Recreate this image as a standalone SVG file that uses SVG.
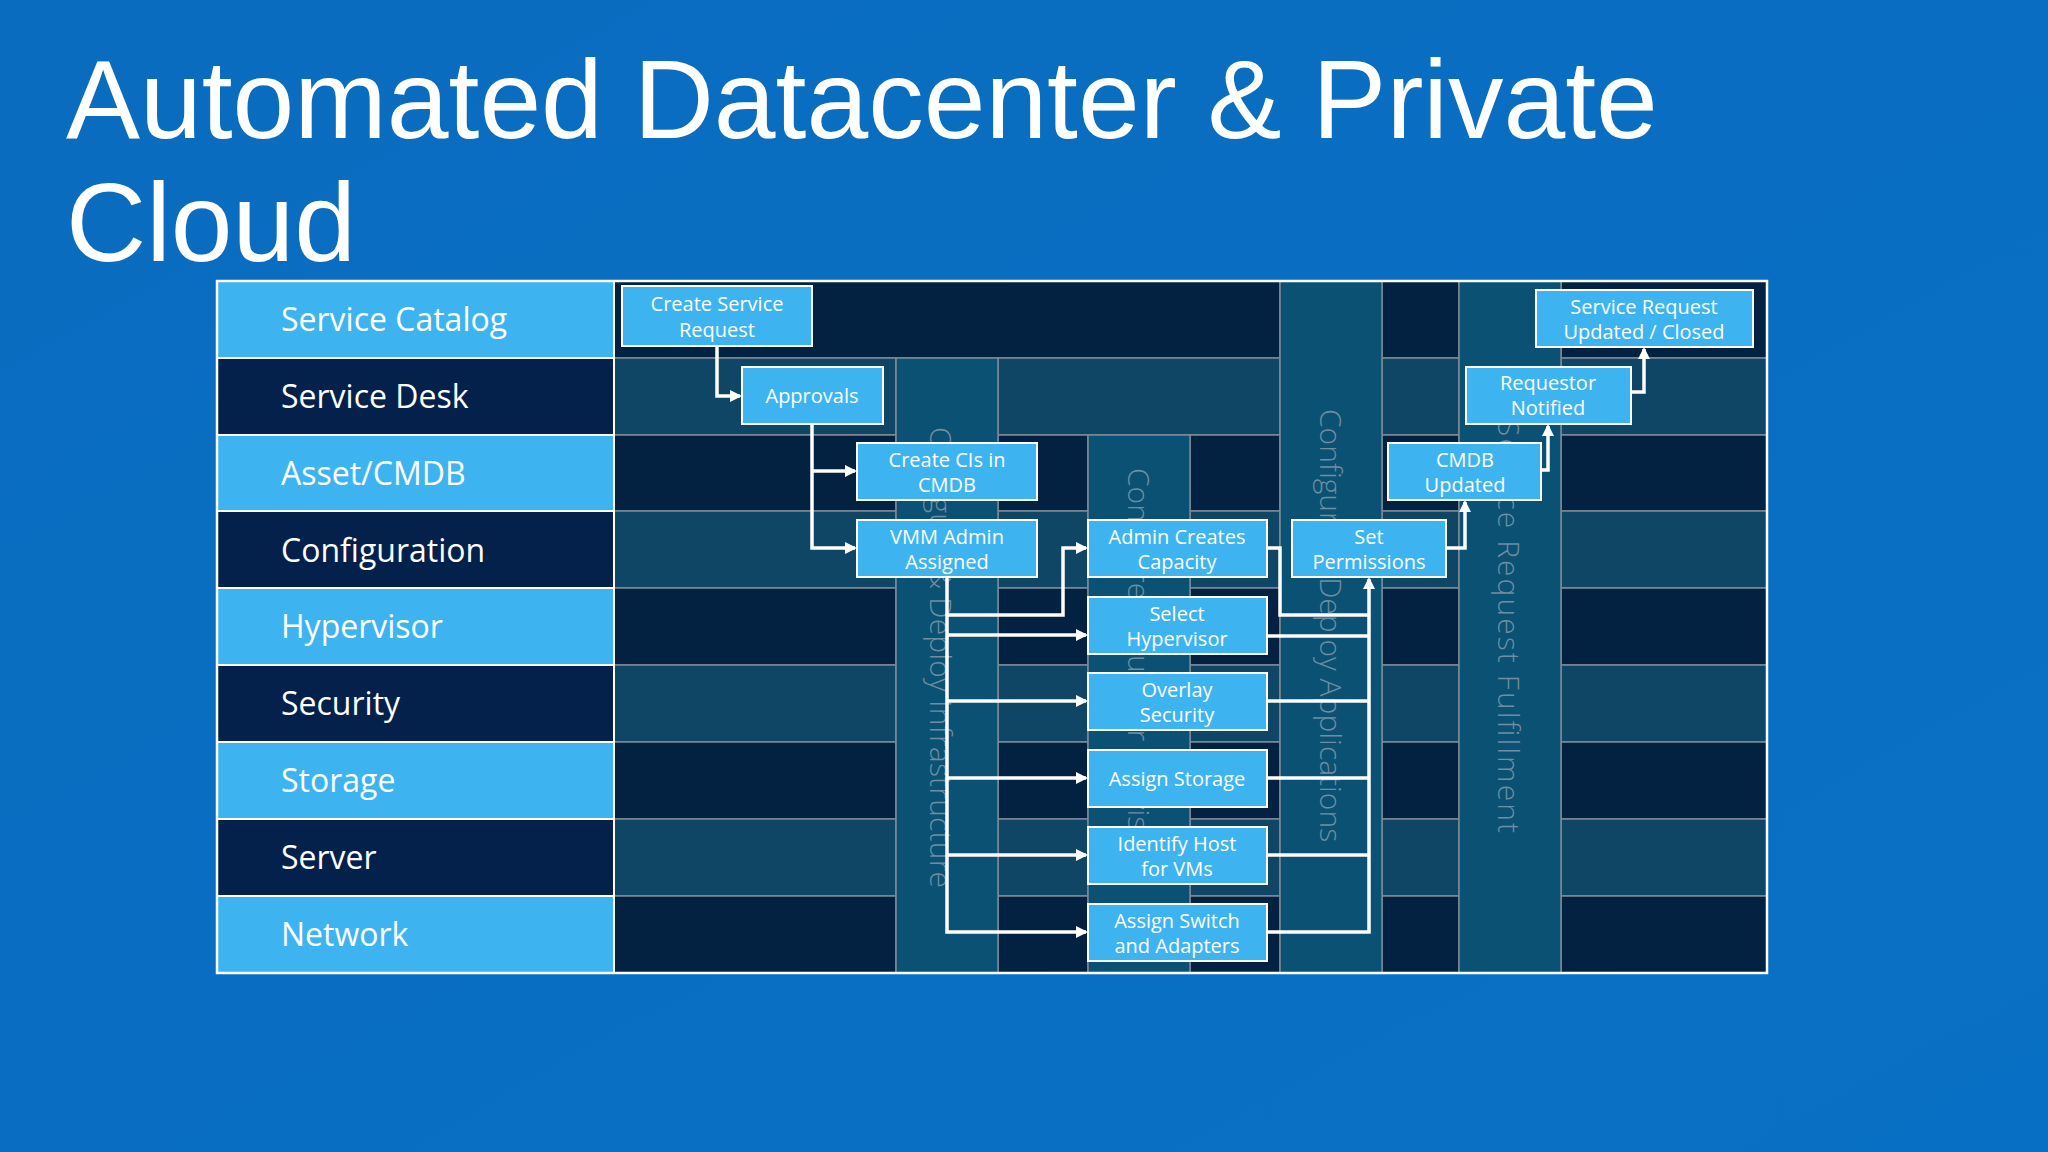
<svg xmlns="http://www.w3.org/2000/svg" width="2048" height="1152" viewBox="0 0 2048 1152">
<defs>
<linearGradient id="bg" x1="0" y1="0" x2="1" y2="1"><stop offset="0" stop-color="#0a6cbf"/><stop offset="1" stop-color="#0870c4"/></linearGradient>
<marker id="ar" markerWidth="12" markerHeight="12" refX="10" refY="6" orient="auto" markerUnits="userSpaceOnUse"><path d="M0,0 L12,6 L0,12 Z" fill="#fff"/></marker>
<style>
.title{font-family:"Liberation Sans",Arial,sans-serif;font-size:111px;fill:#fff}
.lab{font-family:"Open Sans","Noto Sans",sans-serif;font-size:32px;fill:#fff}
.lc1{fill:#3db4f0;stroke:#fff;stroke-width:2}
.lc2{fill:#03214a;stroke:#fff;stroke-width:2}
.d{fill:#032241;stroke:#7d8a96;stroke-width:1.5}
.m{fill:#0f4565;stroke:#7d8a96;stroke-width:1.5}
.band{fill:#0b5173;stroke:#7d8a96;stroke-width:1.5}
.bt{font-family:"Open Sans","Noto Sans",sans-serif;font-size:30px;font-weight:300;fill:#6e8ea3}
.box{fill:#3db4f0;stroke:#fff;stroke-width:2}
.bx{font-family:"Open Sans","Noto Sans",sans-serif;font-size:20px;fill:#fff;text-anchor:middle}
.c{fill:none;stroke:#fff;stroke-width:3.5}
</style>
</defs>
<rect width="2048" height="1152" fill="url(#bg)"/>
<text class="title" x="66" y="138">Automated Datacenter &amp; Private</text>
<text class="title" x="66" y="261">Cloud</text>

<g id="grid">
<rect class="d" x="614" y="281" width="666" height="77"/>
<rect class="d" x="1382" y="281" width="77" height="77"/>
<rect class="d" x="1561" y="281" width="206" height="77"/>
<rect class="m" x="614" y="358" width="282" height="77"/>
<rect class="m" x="998" y="358" width="282" height="77"/>
<rect class="m" x="1382" y="358" width="77" height="77"/>
<rect class="m" x="1561" y="358" width="206" height="77"/>
<g>
<rect class="d" x="614" y="435" width="282" height="76"/><rect class="d" x="998" y="435" width="90" height="76"/><rect class="d" x="1190" y="435" width="90" height="76"/><rect class="d" x="1382" y="435" width="77" height="76"/><rect class="d" x="1561" y="435" width="206" height="76"/>
<rect class="m" x="614" y="511" width="282" height="77"/><rect class="m" x="998" y="511" width="90" height="77"/><rect class="m" x="1190" y="511" width="90" height="77"/><rect class="m" x="1382" y="511" width="77" height="77"/><rect class="m" x="1561" y="511" width="206" height="77"/>
<rect class="d" x="614" y="588" width="282" height="77"/><rect class="d" x="998" y="588" width="90" height="77"/><rect class="d" x="1190" y="588" width="90" height="77"/><rect class="d" x="1382" y="588" width="77" height="77"/><rect class="d" x="1561" y="588" width="206" height="77"/>
<rect class="m" x="614" y="665" width="282" height="77"/><rect class="m" x="998" y="665" width="90" height="77"/><rect class="m" x="1190" y="665" width="90" height="77"/><rect class="m" x="1382" y="665" width="77" height="77"/><rect class="m" x="1561" y="665" width="206" height="77"/>
<rect class="d" x="614" y="742" width="282" height="77"/><rect class="d" x="998" y="742" width="90" height="77"/><rect class="d" x="1190" y="742" width="90" height="77"/><rect class="d" x="1382" y="742" width="77" height="77"/><rect class="d" x="1561" y="742" width="206" height="77"/>
<rect class="m" x="614" y="819" width="282" height="77"/><rect class="m" x="998" y="819" width="90" height="77"/><rect class="m" x="1190" y="819" width="90" height="77"/><rect class="m" x="1382" y="819" width="77" height="77"/><rect class="m" x="1561" y="819" width="206" height="77"/>
<rect class="d" x="614" y="896" width="282" height="77"/><rect class="d" x="998" y="896" width="90" height="77"/><rect class="d" x="1190" y="896" width="90" height="77"/><rect class="d" x="1382" y="896" width="77" height="77"/><rect class="d" x="1561" y="896" width="206" height="77"/>
</g>
<rect class="band" x="896" y="358" width="102" height="615"/>
<rect class="band" x="1088" y="435" width="102" height="538"/>
<rect class="band" x="1280" y="281" width="102" height="692"/>
<rect class="band" x="1459" y="281" width="102" height="692"/>
<text class="bt" transform="translate(930,427) rotate(90)" textLength="461">Configure &amp; Deploy Infrastructure</text>
<text class="bt" transform="translate(1128,468) rotate(90)">Configure &amp; Build or Provision</text>
<text class="bt" transform="translate(1320,409) rotate(90)">Configure &amp; Deploy Applications</text>
<text class="bt" transform="translate(1498,420) rotate(90)" textLength="413">Service Request Fulfillment</text>
</g>

<g id="labels">
<rect class="lc1" x="217" y="281" width="397" height="77"/><text class="lab" x="281" y="331">Service Catalog</text>
<rect class="lc2" x="217" y="358" width="397" height="77"/><text class="lab" x="281" y="408">Service Desk</text>
<rect class="lc1" x="217" y="435" width="397" height="76"/><text class="lab" x="281" y="485">Asset/CMDB</text>
<rect class="lc2" x="217" y="511" width="397" height="77"/><text class="lab" x="281" y="562">Configuration</text>
<rect class="lc1" x="217" y="588" width="397" height="77"/><text class="lab" x="281" y="638">Hypervisor</text>
<rect class="lc2" x="217" y="665" width="397" height="77"/><text class="lab" x="281" y="715">Security</text>
<rect class="lc1" x="217" y="742" width="397" height="77"/><text class="lab" x="281" y="792">Storage</text>
<rect class="lc2" x="217" y="819" width="397" height="77"/><text class="lab" x="281" y="869">Server</text>
<rect class="lc1" x="217" y="896" width="397" height="77"/><text class="lab" x="281" y="946">Network</text>
</g>
<rect x="217" y="281" width="1550" height="692" fill="none" stroke="#fff" stroke-width="2.5"/>

<g id="connectors">
<polyline class="c" points="717,346 717,396 740,396" marker-end="url(#ar)"/>
<polyline class="c" points="812,424 812,548 855,548" marker-end="url(#ar)"/>
<polyline class="c" points="812,471 855,471" marker-end="url(#ar)"/>
<polyline class="c" points="947,577 947,932 1086,932" marker-end="url(#ar)"/>
<polyline class="c" points="947,615 1063,615 1063,548 1086,548" marker-end="url(#ar)"/>
<polyline class="c" points="947,635 1086,635" marker-end="url(#ar)"/>
<polyline class="c" points="947,701 1086,701" marker-end="url(#ar)"/>
<polyline class="c" points="947,778 1086,778" marker-end="url(#ar)"/>
<polyline class="c" points="947,855 1086,855" marker-end="url(#ar)"/>
<polyline class="c" points="1267,548 1280,548 1280,615 1369,615"/>
<polyline class="c" points="1256,636 1369,636"/>
<polyline class="c" points="1267,701 1369,701"/>
<polyline class="c" points="1267,778 1369,778"/>
<polyline class="c" points="1267,855 1369,855"/>
<polyline class="c" points="1267,932 1369,932 1369,579" marker-end="url(#ar)"/>
<polyline class="c" points="1446,548 1465,548 1465,502" marker-end="url(#ar)"/>
<polyline class="c" points="1541,470 1548,470 1548,426" marker-end="url(#ar)"/>
<polyline class="c" points="1631,392 1644,392 1644,349" marker-end="url(#ar)"/>
</g>

<g id="n1"><rect class="box" x="622" y="286" width="190" height="60"/><text class="bx" x="717" y="311">Create Service</text><text class="bx" x="717" y="337">Request</text></g>
<g id="n2"><rect class="box" x="742" y="367" width="141" height="57"/><text class="bx" x="812" y="403">Approvals</text></g>
<g id="n3"><rect class="box" x="857" y="443" width="180" height="57"/><text class="bx" x="947" y="467">Create CIs in</text><text class="bx" x="947" y="492">CMDB</text></g>
<g id="n4"><rect class="box" x="857" y="520" width="180" height="57"/><text class="bx" x="947" y="544">VMM Admin</text><text class="bx" x="947" y="569">Assigned</text></g>
<g id="n5"><rect class="box" x="1088" y="520" width="179" height="57"/><text class="bx" x="1177" y="544">Admin Creates</text><text class="bx" x="1177" y="569">Capacity</text></g>
<g id="n6"><rect class="box" x="1088" y="597" width="179" height="57"/><text class="bx" x="1177" y="621">Select</text><text class="bx" x="1177" y="646">Hypervisor</text></g>
<g id="n7"><rect class="box" x="1088" y="673" width="179" height="57"/><text class="bx" x="1177" y="697">Overlay</text><text class="bx" x="1177" y="722">Security</text></g>
<g id="n8"><rect class="box" x="1088" y="750" width="179" height="57"/><text class="bx" x="1177" y="786">Assign Storage</text></g>
<g id="n9"><rect class="box" x="1088" y="827" width="179" height="57"/><text class="bx" x="1177" y="851">Identify Host</text><text class="bx" x="1177" y="876">for VMs</text></g>
<g id="n10"><rect class="box" x="1088" y="904" width="179" height="57"/><text class="bx" x="1177" y="928">Assign Switch</text><text class="bx" x="1177" y="953">and Adapters</text></g>
<g id="n11"><rect class="box" x="1292" y="520" width="154" height="57"/><text class="bx" x="1369" y="544">Set</text><text class="bx" x="1369" y="569">Permissions</text></g>
<g id="n12"><rect class="box" x="1388" y="443" width="153" height="57"/><text class="bx" x="1465" y="467">CMDB</text><text class="bx" x="1465" y="492">Updated</text></g>
<g id="n13"><rect class="box" x="1466" y="367" width="165" height="57"/><text class="bx" x="1548" y="390">Requestor</text><text class="bx" x="1548" y="415">Notified</text></g>
<g id="n14"><rect class="box" x="1536" y="290" width="217" height="57"/><text class="bx" x="1644" y="314">Service Request</text><text class="bx" x="1644" y="339">Updated / Closed</text></g>
</svg>
